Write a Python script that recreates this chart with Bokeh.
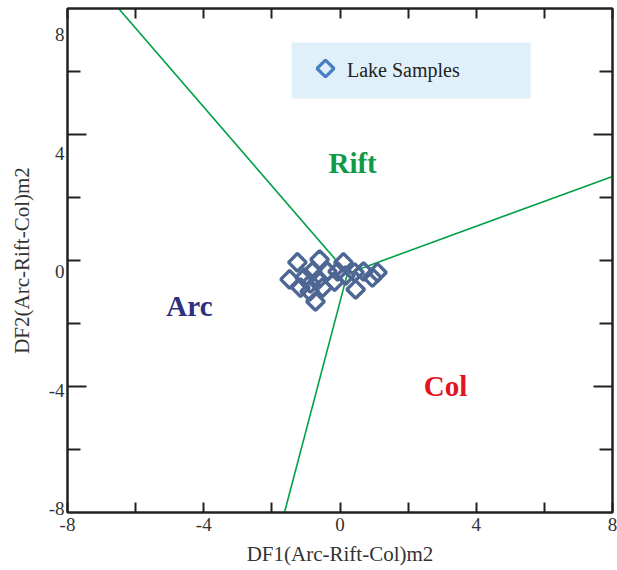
import numpy as np
from bokeh.plotting import figure
from bokeh.models import Range1d, LinearAxis, FixedTicker, Legend, LegendItem, ColumnDataSource
from bokeh.core.properties import value
from bokeh.embed import file_html
from bokeh.resources import INLINE

# ---- data ----
df1 = [-1.25, -0.60, -1.48, -1.04, -0.81, -0.37, -0.89, -0.72, -0.51, -1.16, -0.16,
       0.10, 0.43, 0.69, 1.10, 0.95, 0.46, -0.07, -0.87, -0.63, 0.16]
df2 = [-0.06, 0.03, -0.60, -0.54, -0.35, -0.35, -0.98, -1.30, -0.86, -0.86, -0.67,
       -0.06, -0.38, -0.35, -0.38, -0.54, -0.92, -0.35, -0.73, -0.60, -0.48]

arc_rift_x = [-6.50, 0.22]
arc_rift_y = [8.00, -0.41]
rift_col_x = [0.22, 8.00]
rift_col_y = [-0.41, 2.67]
arc_col_x = [0.22, -1.63]
arc_col_y = [-0.41, -8.00]

field_names = ["Rift", "Arc", "Col"]
field_x = [0.37, -4.42, 3.10]
field_y = [3.08, -1.46, -3.97]
field_colors = ["#0f9a48", "#2e3180", "#e3141e"]

x_label_ticks = [-8, -4, 0, 4, 8]
x_minor_ticks = [-6, -2, 2, 6]
x_all_ticks = [-8, -6, -4, -2, 0, 2, 4, 6, 8]
y_long_ticks = [-4, 4]
y_short_ticks = [-6, -2, 0, 2, 6]
y_label_ticks = [-8, -4, 0, 4, 8]
tick_text = {-8: "-8", -4: "-4", 0: "0", 4: "4", 8: "8"}
legend_label = "Lake Samples"

FONT = "Liberation Serif"
INK = "#222222"

# frame / legend layout (screen pixels)
FRAME_W, FRAME_H = 545, 504
LEG_X, LEG_Y = 224, 414          # legend bottom-left, from frame bottom-left
GLYPH_W, ROW_H, STANDOFF, LABEL_W = 50, 56, 6, 183

p = figure(width=617, height=570, x_range=Range1d(-8, 8), y_range=Range1d(-8, 8),
           output_backend="svg", toolbar_location=None,
           min_border_left=67, min_border_right=5, min_border_top=8, min_border_bottom=58)
p.grid.visible = False
p.outline_line_color = INK
p.outline_line_width = 2
p.background_fill_color = "white"
p.border_fill_color = "white"

# bottom axis
xa = p.xaxis[0]
xa.ticker = FixedTicker(ticks=x_label_ticks, minor_ticks=x_minor_ticks)
xa.major_tick_in = 10
xa.major_tick_out = 0
xa.minor_tick_in = 10
xa.minor_tick_out = 0
xa.axis_line_color = INK
xa.axis_line_width = 2
xa.major_tick_line_color = INK
xa.minor_tick_line_color = INK
xa.major_tick_line_width = 2
xa.minor_tick_line_width = 2
xa.major_label_text_font = FONT
xa.major_label_text_font_size = "19px"
xa.major_label_text_color = "#333333"
xa.major_label_standoff = 5
xa.major_label_overrides = tick_text
xa.axis_label = "DF1(Arc-Rift-Col)m2"
xa.axis_label_text_font = FONT
xa.axis_label_text_font_size = "21px"
xa.axis_label_text_font_style = "normal"
xa.axis_label_text_color = "#333333"
xa.axis_label_standoff = 8

# left tick-only axis
ya = p.yaxis[0]
ya.ticker = FixedTicker(ticks=y_long_ticks, minor_ticks=y_short_ticks)
ya.major_tick_in = 19
ya.major_tick_out = 0
ya.minor_tick_in = 13
ya.minor_tick_out = 0
ya.axis_line_color = INK
ya.axis_line_width = 2
ya.major_tick_line_color = INK
ya.minor_tick_line_color = INK
ya.major_tick_line_width = 2
ya.minor_tick_line_width = 2
ya.major_label_text_font_size = "0px"
ya.major_label_text_color = None
ya.major_label_standoff = 0

# left label axis on a shifted range (labels sit slightly below their ticks in the reference)
p.extra_y_ranges = {"ylab": Range1d(-8.12, 8.88)}
yl = LinearAxis(y_range_name="ylab", ticker=FixedTicker(ticks=y_label_ticks, minor_ticks=[]))
yl.axis_line_color = None
yl.major_tick_line_color = None
yl.minor_tick_line_color = None
yl.major_tick_out = 0
yl.major_tick_in = 0
yl.major_label_text_font = FONT
yl.major_label_text_font_size = "19px"
yl.major_label_text_color = "#333333"
yl.major_label_standoff = 3
yl.major_label_overrides = tick_text
yl.axis_label = "DF2(Arc-Rift-Col)m2"
yl.axis_label_text_font = FONT
yl.axis_label_text_font_size = "21px"
yl.axis_label_text_font_style = "normal"
yl.axis_label_text_color = "#333333"
yl.axis_label_standoff = 12
p.add_layout(yl, "left")

# right tick-only axis
yr = LinearAxis(ticker=FixedTicker(ticks=y_long_ticks, minor_ticks=y_short_ticks))
# top tick-only axis
xt = LinearAxis(ticker=FixedTicker(ticks=x_all_ticks, minor_ticks=[]))
for ax in [yr, xt]:
    ax.major_tick_out = 0
    ax.minor_tick_out = 0
    ax.axis_line_color = INK
    ax.axis_line_width = 2
    ax.major_tick_line_color = INK
    ax.minor_tick_line_color = INK
    ax.major_tick_line_width = 2
    ax.minor_tick_line_width = 2
    ax.major_label_text_font_size = "0px"
    ax.major_label_text_color = None
    ax.major_label_standoff = 0
yr.major_tick_in = 19
yr.minor_tick_in = 13
xt.major_tick_in = 10
p.add_layout(yr, "right")
p.add_layout(xt, "above")

# helpers: screen offsets within the frame -> data units
xs = lambda px: p.x_range.start + px / FRAME_W * (p.x_range.end - p.x_range.start)
ys = lambda py: p.y_range.start + py / FRAME_H * (p.y_range.end - p.y_range.start)

# legend background box (drawn first, beneath everything)
leg_w = GLYPH_W + STANDOFF + LABEL_W
p.quad(left=[xs(LEG_X)], right=[xs(LEG_X + leg_w)], bottom=[ys(LEG_Y)], top=[ys(LEG_Y + ROW_H)],
       fill_color="#dff0fa", line_color=None)

# boundaries
green = "#00a046"
p.line(arc_rift_x, arc_rift_y, line_color=green, line_width=1.6)
p.line(rift_col_x, rift_col_y, line_color=green, line_width=1.6)
p.line(arc_col_x, arc_col_y, line_color=green, line_width=1.6)

# field names
src = ColumnDataSource(dict(x=field_x, y=field_y, t=field_names, c=field_colors))
p.text(x="x", y="y", text="t", text_color="c", source=src,
       text_font=value(FONT), text_font_style="bold", text_font_size="29px",
       text_align="center", text_baseline="middle")

# samples
p.scatter(df1, df2, marker="square", angle=np.pi / 4, size=12.5,
          fill_color=None, line_color="#4d6693", line_width=3.4)

# legend key (rotated square) - Bokeh legend keys are not rotated, so it is drawn here
p.scatter([xs(LEG_X + GLYPH_W / 2 + 9)], [ys(LEG_Y + ROW_H / 2 + 2)], marker="square",
          angle=np.pi / 4, size=12, fill_color=None, line_color="#4a7ec2", line_width=3.2)

# Legend (transparent background, transparent own key) carries the label text
key = p.scatter([100], [100], marker="square", size=12, fill_color=None, line_alpha=0)
legend = Legend(items=[LegendItem(label=legend_label, renderers=[key])],
                location=(LEG_X, LEG_Y), background_fill_alpha=0.0, border_line_color=None,
                padding=0, margin=0, spacing=0, glyph_width=GLYPH_W, glyph_height=ROW_H,
                label_standoff=STANDOFF, label_width=LABEL_W, label_height=ROW_H,
                label_text_font=FONT, label_text_font_size="20px",
                label_text_color="#222222")
p.add_layout(legend, "center")

open("out.html", "w").write(file_html(p, INLINE))
